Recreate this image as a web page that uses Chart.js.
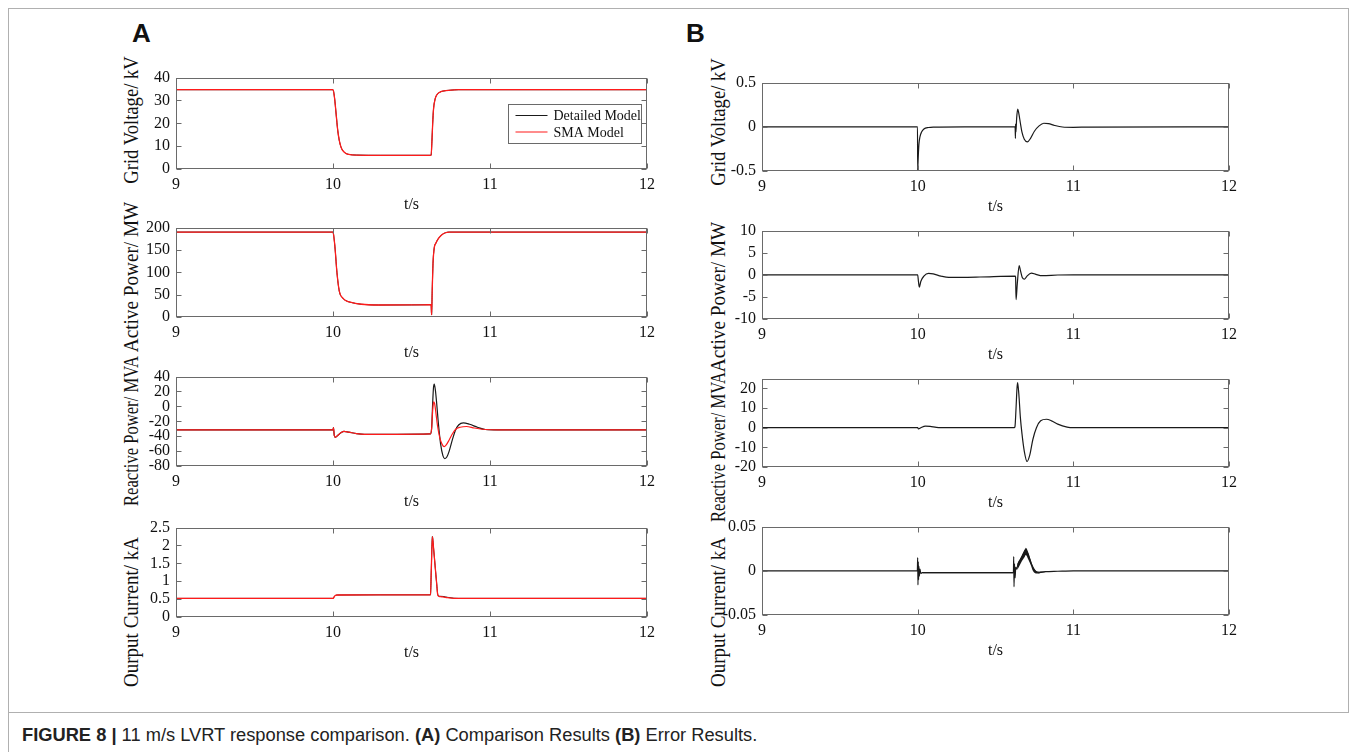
<!DOCTYPE html>
<html><head><meta charset="utf-8">
<script src="https://cdn.jsdelivr.net/npm/chart.js@4.4.0/dist/chart.umd.min.js"></script>
<style>
body{margin:0;width:1356px;height:752px;background:#fff;position:relative;overflow:hidden}
.frame{position:absolute;left:8px;top:8px;width:1339px;height:703px;border:1px solid #b0b0b0}
.lline{position:absolute;left:8px;top:711px;width:1px;height:41px;background:#b0b0b0}
.ytitle{position:absolute;white-space:nowrap;font-family:"Liberation Serif",serif;font-size:20px;color:#111;line-height:1}
.letter{position:absolute;font-family:"Liberation Sans",Arial,sans-serif;font-weight:bold;font-size:26px;color:#111}
.caption{position:absolute;left:22px;top:724px;font-family:"Liberation Sans",Arial,sans-serif;font-size:18.3px;color:#222;white-space:nowrap}
</style>
</head><body>
<div class="frame"></div><div class="lline"></div>
<div class="letter" style="left:132px;top:18px">A</div>
<div class="letter" style="left:686px;top:18px">B</div>
<div class="caption"><b>FIGURE 8 |</b> 11 m/s LVRT response comparison. <b>(A)</b> Comparison Results <b>(B)</b> Error Results.</div>
<script>
// ---------- DATA ----------
const xTicks = [9, 10, 11, 12];

// A1 Grid Voltage / kV
const tA1 = [9, 10, 10.01, 10.02, 10.03, 10.04, 10.05, 10.06, 10.08, 10.1, 10.15, 10.3, 10.5, 10.625, 10.63, 10.635, 10.64, 10.65, 10.66, 10.68, 10.7, 10.75, 10.8, 11, 12];
const vA1Detailed = [34.7, 34.7, 31, 24, 17, 12.5, 9.8, 8.3, 6.9, 6.4, 6.1, 6.0, 6.0, 6.0, 12, 20, 26, 30.5, 32.3, 33.6, 34.1, 34.5, 34.7, 34.7, 34.7];
const vA1SMA = [34.7, 34.7, 31, 24, 17, 12.5, 9.8, 8.3, 6.9, 6.4, 6.1, 6.0, 6.0, 6.0, 12, 20, 26, 30.5, 32.3, 33.6, 34.1, 34.5, 34.7, 34.7, 34.7];
const yTicksA1 = [0, 10, 20, 30, 40];

// A2 Active Power / MW
const tA2 = [9, 10, 10.007, 10.014, 10.025, 10.04, 10.063, 10.08, 10.11, 10.18, 10.29, 10.5, 10.625, 10.628, 10.632, 10.637, 10.645, 10.655, 10.67, 10.69, 10.716, 10.74, 11, 12];
const vA2Detailed = [190, 190, 175, 150, 100, 58, 42, 37, 33, 28.5, 26.8, 27, 27.5, 5, 60, 120, 155, 165, 175, 183, 188.5, 190, 190, 190];
const vA2SMA = [190, 190, 175, 150, 100, 58, 42, 37, 33, 28.5, 26.8, 27, 27.5, 5, 60, 120, 155, 165, 175, 183, 188.5, 190, 190, 190];
const yTicksA2 = [0, 50, 100, 150, 200];

// A3 Reactive Power / MVA
const tA3Detailed = [9, 10, 10.003, 10.008, 10.015, 10.03, 10.05, 10.07, 10.1, 10.15, 10.2, 10.4, 10.62, 10.628, 10.635, 10.64, 10.645, 10.652, 10.66, 10.67, 10.685, 10.7, 10.712, 10.725, 10.74, 10.76, 10.78, 10.8, 10.83, 10.87, 10.92, 10.97, 11.05, 12];
const vA3Detailed = [-31.6, -31.6, -28.5, -39, -41.5, -39, -35.5, -33.5, -34.5, -36.5, -37.5, -37.5, -37, -30, 5, 25, 30, 22, 5, -20, -50, -66, -70, -68, -60, -45, -32, -25, -22, -24, -28, -31, -31.6, -31.6];
const tA3SMA = [9, 10, 10.003, 10.008, 10.015, 10.03, 10.05, 10.07, 10.1, 10.15, 10.2, 10.4, 10.62, 10.628, 10.635, 10.641, 10.647, 10.655, 10.665, 10.68, 10.695, 10.708, 10.72, 10.74, 10.76, 10.78, 10.81, 10.85, 10.9, 10.97, 11.05, 12];
const vA3SMA = [-31.6, -31.6, -28.5, -39, -41.5, -39, -35.5, -33.5, -34.5, -36.5, -37.5, -37.5, -37, -30, -5, 6, 4, -8, -25, -42, -51, -54, -52, -45, -37, -31, -28, -27, -29, -31, -31.6, -31.6];
const yTicksA3 = [-80, -60, -40, -20, 0, 20, 40];

// A4 Output Current / kA
const tA4 = [9, 10, 10.007, 10.014, 10.03, 10.3, 10.621, 10.626, 10.633, 10.64, 10.65, 10.66, 10.668, 10.68, 10.7, 10.73, 10.77, 10.8, 12];
const vA4Detailed = [0.52, 0.52, 0.56, 0.6, 0.615, 0.62, 0.62, 1.3, 2.25, 1.95, 1.45, 0.95, 0.62, 0.58, 0.575, 0.55, 0.525, 0.52, 0.52];
const vA4SMA = [0.52, 0.52, 0.56, 0.6, 0.615, 0.62, 0.62, 1.3, 2.25, 1.95, 1.45, 0.95, 0.6, 0.57, 0.56, 0.54, 0.52, 0.52, 0.52];
const yTicksA4 = [0, 0.5, 1, 1.5, 2, 2.5];

// B1 Grid Voltage error / kV
const tB1 = [9, 9.999, 10.0, 10.004, 10.008, 10.015, 10.025, 10.04, 10.07, 10.1, 10.3, 10.626, 10.628, 10.629, 10.631, 10.636, 10.643, 10.65, 10.66, 10.67, 10.685, 10.705, 10.725, 10.75, 10.78, 10.81, 10.84, 10.88, 10.93, 11.0, 11.1, 12];
const vB1 = [0, 0, -0.49, -0.33, -0.2, -0.11, -0.06, -0.025, -0.008, -0.003, 0, 0, -0.13, 0.03, -0.06, 0.1, 0.2, 0.15, 0.04, -0.06, -0.14, -0.17, -0.13, -0.05, 0.01, 0.04, 0.035, 0.015, -0.002, -0.006, -0.003, 0];
const yTicksB1 = [-0.5, 0, 0.5];

// B2 Active Power error / MW
const tB2 = [9, 10, 10.005, 10.011, 10.02, 10.04, 10.07, 10.1, 10.15, 10.2, 10.4, 10.626, 10.629, 10.632, 10.64, 10.652, 10.66, 10.672, 10.686, 10.7, 10.73, 10.76, 10.8, 10.9, 11, 12];
const vB2 = [0, 0, -1.5, -2.8, -1.5, -0.3, 0.3, 0.2, -0.3, -0.6, -0.5, -0.3, -0.5, -5.6, -2, 2.1, 1.0, -0.6, -1.0, -0.4, 0.4, 0.1, -0.2, -0.05, 0, 0];
const yTicksB2 = [-10, -5, 0, 5, 10];

// B3 Reactive Power error / MVA
const tB3 = [9, 10, 10.005, 10.02, 10.05, 10.08, 10.12, 10.2, 10.62, 10.625, 10.632, 10.638, 10.642, 10.65, 10.66, 10.67, 10.685, 10.703, 10.72, 10.74, 10.763, 10.79, 10.827, 10.86, 10.9, 10.96, 11.0, 12];
const vB3 = [0, 0, -0.6, 0, 0.8, 0.7, 0.2, 0, 0, 0.5, 10, 20, 23, 17, 5, -3, -12, -17.2, -14, -6, 0, 3.5, 4.3, 3.5, 1.8, 0.3, 0, 0];
const yTicksB3 = [-20, -10, 0, 10, 20];

// B4 Output Current error / kA
const tB4 = [9, 9.998, 10.0, 10.002, 10.004, 10.006, 10.008, 10.011, 10.015, 10.02, 10.03, 10.05, 10.615, 10.617, 10.619, 10.622, 10.626, 10.63, 10.636, 10.645, 10.66, 10.68, 10.692, 10.71, 10.73, 10.755, 10.776, 10.82, 10.9, 11, 12];
const vB4 = [0, 0, 0.015, -0.016, 0.01, -0.01, 0.005, -0.006, 0.002, -0.003, -0.002, -0.002, -0.002, 0.016, -0.018, 0.008, -0.008, 0.004, 0.002, 0.008, 0.013, 0.02, 0.024, 0.018, 0.008, 0, -0.002, -0.001, -0.0005, 0, 0];
// envelope of the dense ripple
const tB4BandFlat = [10.03, 10.3, 10.615];
const upB4BandFlat = [-0.0016, -0.0016, -0.0016];
const loB4BandFlat = [-0.0028, -0.0028, -0.0028];
const tB4BandHump = [10.64, 10.655, 10.67, 10.685, 10.695, 10.71, 10.725, 10.74, 10.76, 10.78, 10.8, 10.85];
const upB4BandHump = [0.008, 0.012, 0.017, 0.022, 0.026, 0.021, 0.013, 0.005, 0.0, -0.001, -0.0008, -0.0004];
const loB4BandHump = [0.001, 0.006, 0.011, 0.015, 0.018, 0.013, 0.007, 0.0, -0.003, -0.003, -0.002, -0.0008];
const yTicksB4 = [-0.05, 0, 0.05];

// ---------- LAYOUT / STYLE ----------
const SERIF = '"Liberation Serif", "Times New Roman", serif';
const BLACK = '#1a1a1a', RED = '#ff1a1a';
const line = (label, t, v, color, w, order) => ({label, t, v, color, w, order});
const band = (t, up, lo) => ([
  {label:'_up', t, v:up, color:BLACK, w:0, order:3},
  {label:'_lo', t, v:lo, color:BLACK, w:0, order:3, fill:'-1'}
]);

const panels = [
  {l:176, t:76,  w:471, h:93, min:0, max:40, ticks:yTicksA1, legend:true,
   series:[line('Detailed Model', tA1, vA1Detailed, BLACK, 1, 2), line('SMA Model', tA1, vA1SMA, RED, 1.3, 1)]},
  {l:176, t:226, w:471, h:91, min:0, max:200, ticks:yTicksA2,
   series:[line('Detailed Model', tA2, vA2Detailed, BLACK, 1, 2), line('SMA Model', tA2, vA2SMA, RED, 1.3, 1)]},
  {l:176, t:375, w:471, h:91, min:-80, max:40, ticks:yTicksA3,
   series:[line('Detailed Model', tA3Detailed, vA3Detailed, BLACK, 1.2, 2), line('SMA Model', tA3SMA, vA3SMA, RED, 1.2, 1)]},
  {l:176, t:526, w:471, h:91, min:0, max:2.5, ticks:yTicksA4,
   series:[line('Detailed Model', tA4, vA4Detailed, BLACK, 1, 2), line('SMA Model', tA4, vA4SMA, RED, 1.3, 1)]},
  {l:762, t:81,  w:467, h:90, min:-0.5, max:0.5, ticks:yTicksB1,
   series:[line('Error', tB1, vB1, BLACK, 1.2, 1)]},
  {l:762, t:229, w:467, h:90, min:-10, max:10, ticks:yTicksB2,
   series:[line('Error', tB2, vB2, BLACK, 1.2, 1)]},
  {l:762, t:377, w:467, h:90, min:-20, max:25, ticks:yTicksB3,
   series:[line('Error', tB3, vB3, BLACK, 1.2, 1)]},
  {l:762, t:525, w:467, h:90, min:-0.05, max:0.05, ticks:yTicksB4,
   series:[line('Error', tB4, vB4, BLACK, 1.2, 1),
           ...band(tB4BandFlat, upB4BandFlat, loB4BandFlat),
           ...band(tB4BandHump, upB4BandHump, loB4BandHump)]}
];

// y titles: centre and squeeze along the text direction
const yTitles = [
  {x:131, y:120, s:0.93, text:'Grid Voltage/ kV'},
  {x:131, y:277, s:0.96, text:'Active Power/ MW'},
  {x:131, y:431, s:0.83, text:'Reactive Power/ MVA'},
  {x:131, y:612, s:0.95, text:'Ourput Current/ kA'},
  {x:718, y:122, s:0.93, text:'Grid Voltage/ kV'},
  {x:718, y:297, s:0.96, text:'Active Power/ MW'},
  {x:718, y:447, s:0.83, text:'Reactive Power/ MVA'},
  {x:718, y:612, s:0.95, text:'Ourput Current/ kA'}
];
yTitles.forEach(o => {
  const d = document.createElement('div');
  d.className = 'ytitle'; d.textContent = o.text;
  d.style.left = o.x + 'px'; d.style.top = o.y + 'px';
  d.style.transform = `translate(-50%,-50%) rotate(-90deg) scaleX(${o.s})`;
  document.body.appendChild(d);
});

const boxPlugin = {
  id: 'matlabBox',
  afterDatasetsDraw(chart) {
    const {ctx, chartArea: a, scales: {x, y}} = chart;
    ctx.save();
    ctx.strokeStyle = '#6a6a6a'; ctx.lineWidth = 1;
    const L = Math.round(a.left) + 0.5, R = Math.round(a.right) - 0.5;
    const T = Math.round(a.top) + 0.5, B = Math.round(a.bottom) - 0.5;
    ctx.strokeRect(L, T, R - L, B - T);
    ctx.beginPath();
    x.ticks.forEach(tk => {
      const px = Math.round(x.getPixelForValue(tk.value)) + 0.5;
      ctx.moveTo(px, B); ctx.lineTo(px, B - 5);
      ctx.moveTo(px, T); ctx.lineTo(px, T + 5);
    });
    y.ticks.forEach(tk => {
      const py = Math.round(y.getPixelForValue(tk.value)) + 0.5;
      ctx.moveTo(L, py); ctx.lineTo(L + 5, py);
      ctx.moveTo(R, py); ctx.lineTo(R - 5, py);
    });
    ctx.stroke();
    const lg = chart.options.plugins.matlabBox;
    if (lg && lg.legend) {
      const items = chart.data.datasets.filter(d => !d.label.startsWith('_'));
      const bw = 133, bh = 39;
      const bx = Math.round(a.right) - 139 + 0.5, by = Math.round(a.top) + 26 + 0.5;
      ctx.fillStyle = '#fff'; ctx.fillRect(bx, by, bw, bh);
      ctx.strokeStyle = '#6a6a6a'; ctx.strokeRect(bx, by, bw, bh);
      ctx.font = '14px ' + SERIF; ctx.textBaseline = 'middle'; ctx.textAlign = 'left';
      items.forEach((d, i) => {
        const cy = by + 11 + i * 16.5;
        ctx.strokeStyle = d.borderColor; ctx.lineWidth = 1.2;
        ctx.beginPath(); ctx.moveTo(bx + 7, cy); ctx.lineTo(bx + 39, cy); ctx.stroke();
        ctx.fillStyle = '#111'; ctx.fillText(d.label, bx + 45, cy + 1);
      });
    }
    ctx.restore();
  }
};

const PADL = 70, PADT = 14, PADR = 30, PADB = 5, XH = 45;
panels.forEach(p => {
  const W = p.w + PADL + PADR, H = p.h + PADT + XH + PADB;
  const cv = document.createElement('canvas');
  cv.width = W; cv.height = H;
  cv.style.cssText = `position:absolute;left:${p.l - PADL}px;top:${p.t - PADT}px;width:${W}px;height:${H}px`;
  document.body.appendChild(cv);
  const tickFont = {family: SERIF, size: 16};
  new Chart(cv, {
    type: 'line',
    data: {
      datasets: p.series.map(s => ({
        label: s.label,
        data: s.t.map((tx, i) => ({x: tx, y: s.v[i]})),
        borderColor: s.color, backgroundColor: s.color,
        borderWidth: s.w, pointRadius: 0, order: s.order,
        cubicInterpolationMode: 'monotone',
        fill: s.fill || false
      }))
    },
    options: {
      responsive: false, animation: false, devicePixelRatio: 1,
      layout: {padding: {left: 0, top: PADT, right: PADR, bottom: PADB}},
      plugins: {legend: {display: false}, tooltip: {enabled: false}, matlabBox: {legend: !!p.legend}},
      scales: {
        x: {
          type: 'linear', min: 9, max: 12,
          afterBuildTicks: s => { s.ticks = xTicks.map(v => ({value: v})); },
          afterFit: s => { s.height = XH; },
          grid: {display: false, drawTicks: false}, border: {display: false},
          ticks: {font: tickFont, color: '#111', padding: 6, maxRotation: 0, autoSkip: false,
                  callback: v => String(v)},
          title: {display: true, text: 't/s', font: tickFont, color: '#111', padding: 0}
        },
        y: {
          type: 'linear', min: p.min, max: p.max,
          afterBuildTicks: s => { s.ticks = p.ticks.map(v => ({value: v})); },
          afterFit: s => { s.width = PADL; },
          grid: {display: false, drawTicks: false}, border: {display: false},
          ticks: {font: tickFont, color: '#111', padding: 6, autoSkip: false,
                  callback: v => String(+v.toFixed(6))}
        }
      }
    },
    plugins: [boxPlugin]
  });
});
</script>
</body></html>
